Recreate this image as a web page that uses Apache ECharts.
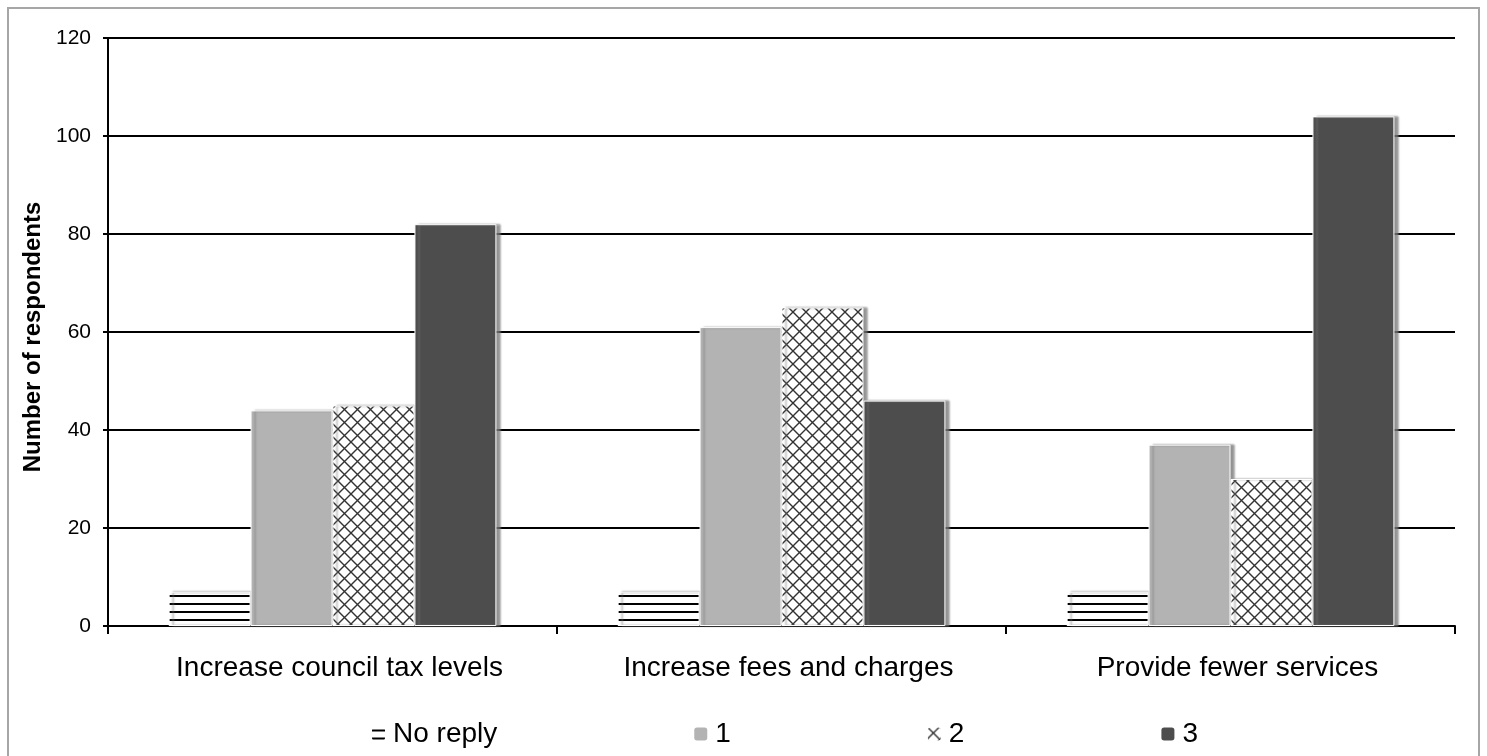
<!DOCTYPE html>
<html>
<head>
<meta charset="utf-8">
<script src="https://cdn.jsdelivr.net/npm/echarts@6/dist/echarts.min.js"></script>
<style>
  html, body { margin: 0; padding: 0; background: #fff; overflow: hidden; }
  #frame { position: absolute; left: 7px; top: 7px; width: 1473px; height: 800px;
           border: 2px solid #a6a6a6; box-sizing: border-box; }
  #chart { position: absolute; left: 0; top: 0; width: 1487px; height: 756px; }
</style>
</head>
<body>
<div id="frame"></div>
<div id="chart"></div>
<script>
// Survey options and response counts
const categories = ['Increase council tax levels', 'Increase fees and charges', 'Provide fewer services'];
const seriesNames = ['No reply', '1', '2', '3'];
const noReply = [7, 7, 7];
const rank1 = [44, 61, 37];
const rank2 = [45, 65, 30];
const rank3 = [82, 46, 104];
const yTicks = { min: 0, max: 120, interval: 20 };

const FONT = 'Liberation Sans, Arial, sans-serif';

// Fill patterns
function stripePattern() {
  const c = document.createElement('canvas');
  c.width = 8; c.height = 8;
  const g = c.getContext('2d');
  g.fillStyle = '#fff'; g.fillRect(0, 0, 8, 8);
  g.fillStyle = '#000'; g.fillRect(0, 3, 8, 2);
  return { image: c, repeat: 'repeat' };
}
function crossPattern() {
  const s = 13;
  const c = document.createElement('canvas');
  c.width = s; c.height = s;
  const g = c.getContext('2d');
  g.fillStyle = '#fff'; g.fillRect(0, 0, s, s);
  g.strokeStyle = '#333'; g.lineWidth = 1.4;
  g.beginPath();
  g.moveTo(0, 0); g.lineTo(s, s);
  g.moveTo(s, 0); g.lineTo(0, s);
  g.stroke();
  return { image: c, repeat: 'repeat' };
}

const fills = [stripePattern(), '#b3b3b3', crossPattern(), '#4d4d4d'];
const values = [noReply, rank1, rank2, rank3];

const chart = echarts.init(document.getElementById('chart'));
chart.setOption({
  animation: false,
  textStyle: { fontFamily: FONT, color: '#000' },
  grid: { left: 108, right: 32, top: 38, bottom: 130 },
  legend: {
    data: seriesNames,
    left: 370, top: 720, padding: 0,
    itemWidth: 15, itemHeight: 15, itemGap: 195,
    textStyle: { fontSize: 28, color: '#000', fontFamily: FONT, padding: [0, 0, 0, 2] }
  },
  xAxis: {
    type: 'category',
    data: categories,
    axisLine: { lineStyle: { color: '#000', width: 2 } },
    axisTick: { show: true, length: 8, lineStyle: { color: '#000', width: 2 } },
    axisLabel: { fontSize: 28, color: '#000', margin: 28, padding: [0, 0, 0, 14] }
  },
  yAxis: {
    type: 'value',
    min: yTicks.min, max: yTicks.max, interval: yTicks.interval,
    name: 'Number of respondents',
    nameLocation: 'middle',
    nameGap: 62,
    nameTextStyle: { fontSize: 24, fontWeight: 'bold', color: '#000', fontFamily: FONT, padding: [0, 10, 0, 0] },
    axisLine: { show: true, lineStyle: { color: '#000', width: 2 } },
    axisTick: { show: true, length: 5, lineStyle: { color: '#000', width: 2 } },
    axisLabel: { fontSize: 21, color: '#000', margin: 17 },
    splitLine: { lineStyle: { color: '#000', width: 2 } }
  },
  series: seriesNames.map((name, i) => ({
    name,
    type: 'bar',
    data: values[i],
    barGap: '0%',
    barCategoryGap: '27%',
    itemStyle: {
      color: fills[i],
      borderColor: '#fff',
      borderWidth: 1,
      shadowColor: 'rgba(120,120,120,0.8)',
      shadowOffsetX: 4,
      shadowOffsetY: 0,
      shadowBlur: 2
    }
  }))
});
</script>
</body>
</html>
